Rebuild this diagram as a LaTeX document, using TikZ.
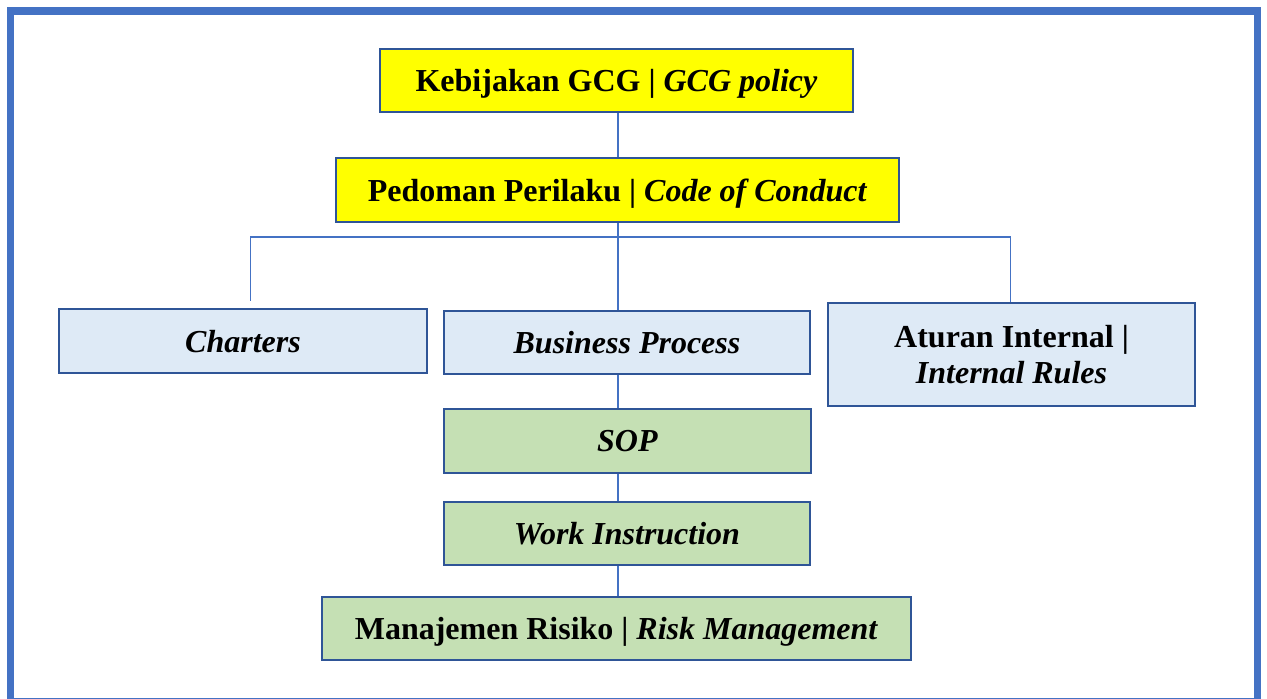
\documentclass[tikz,border=0pt]{standalone}
\usepackage{fontspec}
\setmainfont{Liberation Serif}
\definecolor{frameblue}{HTML}{4472C4}
\definecolor{boxborder}{HTML}{2F5597}
\definecolor{gcgyellow}{HTML}{FFFF00}
\definecolor{lightblue}{HTML}{DEEAF6}
\definecolor{lightgreen}{HTML}{C5E0B4}
\begin{document}
\begin{tikzpicture}[x=1pt,y=-1pt,
  box/.style={draw=boxborder, line width=2.7pt, inner sep=0pt, align=center,
    text depth=0pt, font=\fontsize{32}{36}\selectfont\bfseries},
  ybox/.style={box, fill=gcgyellow},
  bbox/.style={box, fill=lightblue},
  gbox/.style={box, fill=lightgreen},
  conn/.style={draw=frameblue, line width=1.5pt}]
\useasboundingbox (0,0) rectangle (1267,699);
\draw[frameblue, line width=7.5pt] (10.5,11) rectangle (1257.5,702);

\node[ybox, minimum width=473pt, minimum height=63pt] (kb) at (616.5,80.5) {Kebijakan GCG | \textit{GCG policy}};
\node[ybox, minimum width=563pt, minimum height=64pt] (pp) at (617.5,190) {Pedoman Perilaku | \textit{Code of Conduct}};
\node[bbox, minimum width=368pt, minimum height=64pt] (ch) at (243,341) {\textit{Charters}};
\node[bbox, minimum width=366pt, minimum height=63pt] (bp) at (627,342.5) {\textit{Business Process}};
\node[bbox, minimum width=367pt, minimum height=103pt] (ai) at (1011.5,354.5) {Aturan Internal |\\ \textit{Internal Rules}};
\node[gbox, minimum width=367pt, minimum height=64pt] (sop) at (627.5,441) {\textit{SOP}};
\node[gbox, minimum width=366pt, minimum height=63pt] (wi) at (627,533.5) {\textit{Work Instruction}};
\node[gbox, minimum width=589pt, minimum height=63pt] (mr) at (616.5,628.5) {Manajemen Risiko | \textit{Risk Management}};

\coordinate (spine) at (618,0);
\coordinate (busL) at (250.5,237);
\coordinate (busR) at (1010.5,237);

\draw[conn] (kb.south -| spine) -- (pp.north -| spine);
\draw[conn] (pp.south -| spine) -- (bp.north -| spine);
\draw[conn] ([yshift=7pt]ch.north -| busL) -- (busL) -- (busR) -- (ai.north -| busR);
\draw[conn] (bp.south -| spine) -- (sop.north -| spine);
\draw[conn] (sop.south -| spine) -- (wi.north -| spine);
\draw[conn] (wi.south -| spine) -- (mr.north -| spine);
\end{tikzpicture}
\end{document}
